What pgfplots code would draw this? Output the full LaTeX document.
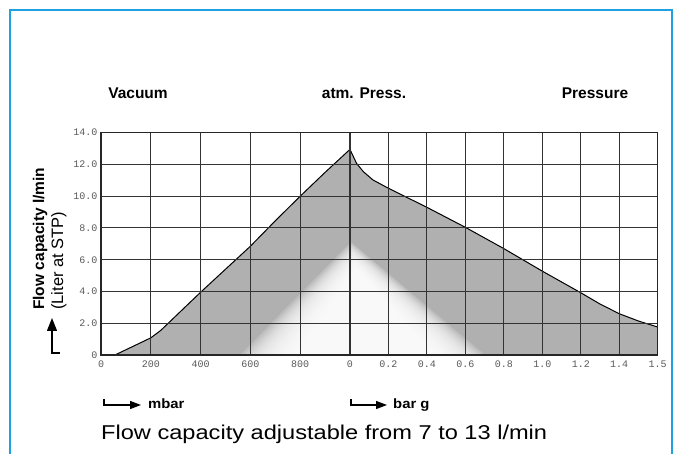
\documentclass[border=0pt]{standalone}
\usepackage{pgfplots}
\pgfplotsset{compat=1.18}
\usepackage{pgfplotstable}
\usepackage{graphicx}
\usepackage{fontspec}
\setmainfont{Liberation Sans}
\setmonofont{Liberation Mono}
\usetikzlibrary{arrows.meta}
\definecolor{fillgray}{RGB}{176,176,176}
\definecolor{framecol}{RGB}{30,160,225}

\pgfplotstableread{
mbar flow
56 0
120 0.48
200 1.08
240 1.55
280 2.15
340 3.05
400 3.95
500 5.4
600 6.85
700 8.45
800 10.0
900 11.5
1000 12.95
}\vacuumdata

\pgfplotstableread{
g flow
0 12.95
0.17 12.07
0.35 11.54
0.6 11.02
1 10.5
2 9.3
3 8.04
4 6.7
5 5.28
6 3.92
6.5 3.21
7 2.6
7.5 2.14
8 1.76
}\pressuredata

\begin{document}
\begin{tikzpicture}[x=1pt,y=1pt]
\useasboundingbox (0,0) rectangle (679,454);
\fill[white] (0,0) rectangle (679,454);
\draw[framecol, line width=1.4pt] (10,0) -- (10,444) -- (672,444) -- (672,0);

\begin{axis}[
  at={(101pt,99pt)}, anchor=south west,
  scale only axis, width=556.7pt, height=222.3pt,
  xmin=0, xmax=2236, ymin=0, ymax=14,
  xtick={0,200,400,600,800,1000,1154.5,1309,1463.5,1618,1772.5,1927,2081.5,2236},
  xticklabels={0,200,400,600,800,0,0.2,0.4,0.6,0.8,1.0,1.2,1.4,1.5},
  ytick={0,2,4,6,8,10,12,14},
  yticklabels={0,2.0,4.0,6.0,8.0,10.0,12.0,14.0},
  grid=major,
  major grid style={line width=1.05pt, draw=black!80},
  major tick length=0pt,
  axis line style={line width=1.05pt, draw=black!85},
  axis on top,
  ticklabel style={font=\fontsize{10}{10}\selectfont\ttfamily, text=black!65},
  xticklabel style={yshift=-2pt},
]
\addplot[fill=fillgray, draw=none] table[x=mbar,y=flow]{\vacuumdata} \closedcycle;
\addplot[fill=fillgray, draw=none] table[x expr=1000+\thisrow{g}*154.5, y=flow]{\pressuredata} \closedcycle;

% soft white highlight inside the filled area
\fill[white, opacity=0.18] (axis cs:558.2,0) -- (axis cs:1004.0,7.116) -- (axis cs:1542.2,0) -- cycle;
\fill[white, opacity=0.18] (axis cs:573.0,0) -- (axis cs:1005.4,7.007) -- (axis cs:1528.8,0) -- cycle;
\fill[white, opacity=0.18] (axis cs:587.7,0) -- (axis cs:1006.7,6.898) -- (axis cs:1515.4,0) -- cycle;
\fill[white, opacity=0.18] (axis cs:602.4,0) -- (axis cs:1008.0,6.788) -- (axis cs:1502.0,0) -- cycle;
\fill[white, opacity=0.18] (axis cs:617.1,0) -- (axis cs:1009.4,6.679) -- (axis cs:1488.6,0) -- cycle;
\fill[white, opacity=0.18] (axis cs:631.9,0) -- (axis cs:1010.7,6.570) -- (axis cs:1475.2,0) -- cycle;
\fill[white, opacity=0.18] (axis cs:646.6,0) -- (axis cs:1012.0,6.461) -- (axis cs:1461.8,0) -- cycle;
\fill[white, opacity=0.18] (axis cs:661.3,0) -- (axis cs:1013.4,6.352) -- (axis cs:1448.5,0) -- cycle;
\fill[white, opacity=0.18] (axis cs:676.0,0) -- (axis cs:1014.7,6.243) -- (axis cs:1435.1,0) -- cycle;
\fill[white, opacity=0.18] (axis cs:690.8,0) -- (axis cs:1016.1,6.134) -- (axis cs:1421.7,0) -- cycle;
\fill[white, opacity=0.18] (axis cs:705.5,0) -- (axis cs:1017.4,6.024) -- (axis cs:1408.3,0) -- cycle;
\fill[white, opacity=0.18] (axis cs:720.2,0) -- (axis cs:1018.7,5.915) -- (axis cs:1394.9,0) -- cycle;
\fill[white, opacity=0.18] (axis cs:734.9,0) -- (axis cs:1020.1,5.806) -- (axis cs:1381.5,0) -- cycle;
\fill[white, opacity=0.18] (axis cs:749.7,0) -- (axis cs:1021.4,5.697) -- (axis cs:1368.1,0) -- cycle;
\fill[white, opacity=0.18] (axis cs:764.4,0) -- (axis cs:1022.8,5.588) -- (axis cs:1354.7,0) -- cycle;
\fill[white, opacity=0.18] (axis cs:779.1,0) -- (axis cs:1024.1,5.479) -- (axis cs:1341.4,0) -- cycle;

\draw[line width=1.8pt, black!85] (axis cs:1000,0) -- (axis cs:1000,14);

\addplot[black, line width=1pt] table[x=mbar,y=flow]{\vacuumdata};
\addplot[black, line width=1pt] table[x expr=1000+\thisrow{g}*154.5, y=flow]{\pressuredata};
\end{axis}

% headings
\node[anchor=base, font=\fontsize{15.5}{16}\selectfont\bfseries] at (138,355) {Vacuum};
\node[anchor=base, font=\fontsize{15.5}{16}\selectfont\bfseries] at (364,355) {atm. Press.};
\node[anchor=base, font=\fontsize{15.5}{16}\selectfont\bfseries] at (595,355) {Pressure};

% y label
\node[rotate=90, anchor=base west, inner sep=0pt, font=\fontsize{15.5}{16}\selectfont\bfseries] at (44,144) {Flow capacity l/min};
\node[rotate=90, anchor=base west, inner sep=0pt, font=\fontsize{16.5}{17}\selectfont] at (63,144) {(Liter at STP)};
\draw[line width=1.3pt, -{Triangle[length=13pt,width=10pt]}] (60,101) -- (52,101) -- (52,136);

% unit arrows
\draw[line width=1.2pt, -{Triangle[length=11pt,width=8pt]}] (104,55) -- (104,49) -- (141,49);
\node[anchor=base west, inner sep=0pt, font=\fontsize{13.5}{14}\selectfont\bfseries] at (148,45) {\scalebox{1.1}[1]{mbar}};
\draw[line width=1.2pt, -{Triangle[length=11pt,width=8pt]}] (351,55) -- (351,49) -- (387,49);
\node[anchor=base west, inner sep=0pt, font=\fontsize{13.5}{14}\selectfont\bfseries] at (393,45) {\scalebox{1.1}[1]{bar g}};

% caption
\node[anchor=base west, inner sep=0pt, font=\fontsize{20}{22}\selectfont] at (101,14) {\scalebox{1.18}[1]{Flow capacity adjustable from 7 to 13 l/min}};
\end{tikzpicture}
\end{document}
